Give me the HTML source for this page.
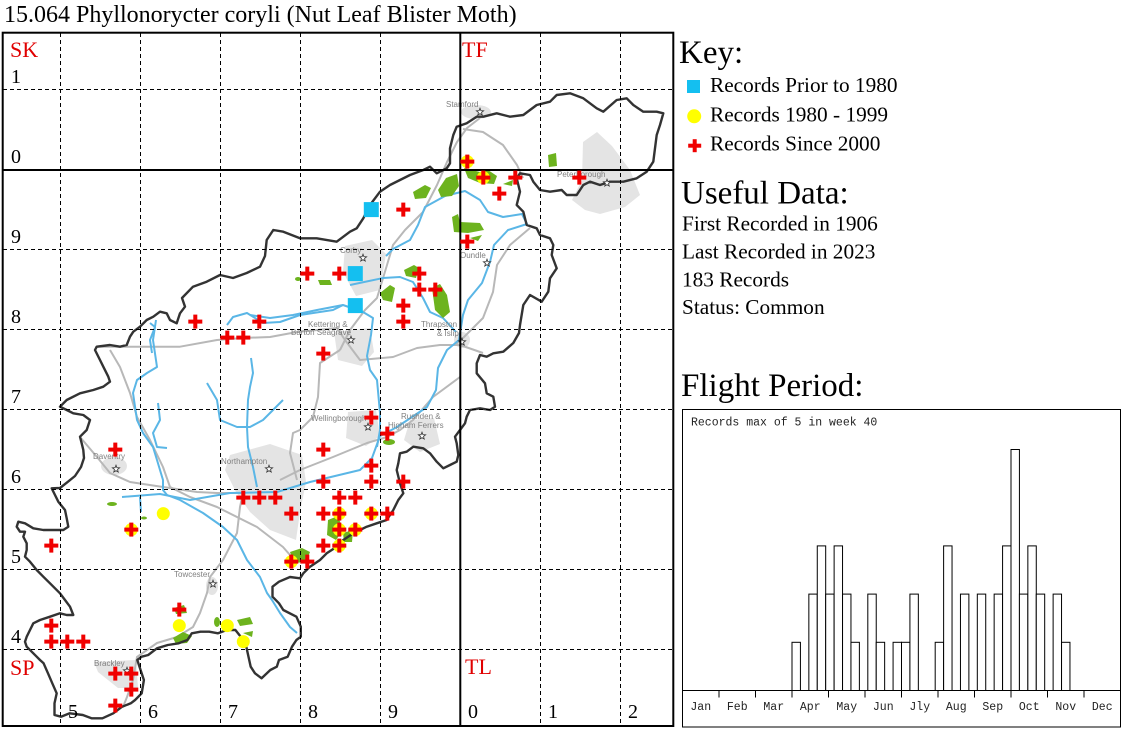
<!DOCTYPE html>
<html><head><meta charset="utf-8"><style>
html,body{margin:0;padding:0;background:#fff;}
svg{display:block;}
</style></head><body>
<svg width="1125" height="731" viewBox="0 0 1125 731" xmlns="http://www.w3.org/2000/svg">
<defs>
<g id="c" fill="#f00000"><rect x="-7" y="-2" width="14" height="4"/><rect x="-2" y="-7" width="4" height="14"/></g>
<circle id="y" r="6.5" fill="#ffff00"/>
<rect id="b" x="-7.5" y="-7.5" width="15" height="15" fill="#14bff0"/>
<path id="st" d="M0,-3.8 L0.94,-1.29 L3.61,-1.17 L1.52,0.49 L2.23,3.07 L0,1.6 L-2.23,3.07 L-1.52,0.49 L-3.61,-1.17 L-0.94,-1.29Z" fill="#fff" stroke="#333" stroke-width="0.8"/>
</defs>
<rect width="1125" height="731" fill="#fff"/>

<!-- Title -->
<text x="4" y="22" font-family="Liberation Serif, serif" font-size="24" fill="#000">15.064 Phyllonorycter coryli (Nut Leaf Blister Moth)</text>

<!-- ===== MAP ===== -->
<!-- towns -->
<g fill="#e4e4e4">
<ellipse cx="476" cy="112" rx="15" ry="7"/>
<path d="M583,142 L597,132 L612,146 L630,170 L640,195 L625,207 L600,214 L585,210 L572,200 L582,180 Z"/>
<path d="M345,246 L372,240 L386,254 L380,290 L356,296 L343,272 Z"/>
<path d="M334,332 L370,328 L374,352 L362,366 L338,360 Z"/>
<path d="M348,412 L376,410 L380,436 L366,446 L346,438 Z"/>
<path d="M410,420 L434,418 L440,444 L420,452 L404,440 Z"/>
<path d="M230,455 L270,444 L302,455 L306,482 L300,512 L296,540 L270,530 L250,512 L236,492 L225,470 Z"/>
<ellipse cx="114" cy="466" rx="13" ry="9"/>
<ellipse cx="212" cy="586" rx="6" ry="9"/>
<path d="M94,662 L136,660 L138,688 L118,688 L98,672 Z"/>
<ellipse cx="462" cy="340" rx="8" ry="8"/>
</g>
<!-- roads -->
<g fill="none" stroke="#b8b8b8" stroke-width="2" stroke-linejoin="round">
<polyline points="96.7,346.7 140,346.7 180,346.7 217,340 243,338 270,337 297,332 317,330 337,328 345,340 360,360 393,357 417,348 440,345 460,345 483,353"/>
<polyline points="340,350 350,330 365,310 377,298 387,265 393,245 405,230 423,212 437,185 447,162 457,142 467,128 480,118"/>
<polyline points="463,129 483,132 503,145 517,165 523,178"/>
<polyline points="530,228 510,245 497,265 493,292 483,318 463,338 455,345"/>
<polyline points="460,377 433,397 413,420 400,430 387,437 367,443 333,457 300,470 280,480"/>
<polyline points="340,350 320,363 318,397 313,417 300,430 293,433 290,453 297,480"/>
<polyline points="80,437 97,457 110,473 130,482 163,487 197,492 217,493 243,493"/>
<polyline points="243,493 240,507 237,533 223,560 210,577 207,593 200,613 193,627 177,637 157,643 137,657 133,680 127,697 123,707"/>
<polyline points="110,350 120,367 130,393 137,417 150,440 163,467 170,487 190,497 217,507 257,527 283,547 297,563"/>
</g>
<!-- rivers -->
<g fill="none" stroke="#5ab6e6" stroke-width="2" stroke-linejoin="round">
<polyline points="122,497 160,494 190,500 230,493 277,492 310,482 360,470 372,458 380,436 397,427 427,407 436,390 438,368 447,350 459,340 463,315 468,300 482,283 490,262 494,245 508,230 527,224 522,214 503,217 488,212 480,200 465,191 445,196 425,207 418,225 410,240 393,249 386,256"/>
<polyline points="250,315 270,318 293,315 317,310 343,305 363,312 373,318 371,335 367,356 370,370 377,380 380,413 380,430 377,447"/>
<polyline points="350,285 383,278 400,277 413,282 423,298 430,312 443,318 456,332"/>
<polyline points="251,358 253,373 250,387 248,400 247,427 248,447 253,467 257,487"/>
<polyline points="207,383 217,400 220,420 237,427 250,427 263,420 283,400"/>
<polyline points="156,320 153,340 157,367 147,373 137,380 133,393 137,420 143,433 153,447 157,460 163,480 163,490 167,495"/>
<polyline points="158,403 160,420 153,433 157,447 167,448"/>
<polyline points="167,495 180,500 203,513 223,527 237,540 247,560 260,577 267,593 272,600 280,613 290,627 297,633"/>
<polyline points="227,325 233,317 247,313 263,323 280,322 300,315 333,310 343,305"/>
<polyline points="150,323 155,327 150,340 152,353"/>
<polyline points="140,497 141,512"/>
</g>
<!-- woodland -->
<g fill="#6db31e">
<path d="M413,192 L425,185 L431,188 L426,198 L415,199 Z"/>
<path d="M438,190 L446,178 L457,174 L459,186 L452,196 L441,197 Z"/>
<path d="M464,168 L480,172 L488,170 L497,176 L494,184 L480,183 L468,178 Z"/>
<path d="M503,184 L513,180 L512,186 Z"/>
<path d="M548,155 L556,153 L557,166 L549,167 Z"/>
<path d="M452,217 L458,214 L460,222 L480,223 L484,230 L468,233 L454,232 Z"/>
<path d="M470,238 L482,235 L478,241 Z"/>
<path d="M404,270 L414,265 L419,268 L416,278 L406,276 Z"/>
<path d="M380,293 L390,285 L395,288 L392,302 L383,300 Z"/>
<path d="M432,288 L440,284 L447,295 L450,312 L443,318 L435,310 Z"/>
<ellipse cx="298" cy="279" rx="3" ry="2"/>
<path d="M318,280 L330,280 L332,285 L320,285 Z"/>
<ellipse cx="389" cy="442" rx="6" ry="3"/>
<path d="M328,520 L338,516 L343,530 L336,540 L327,535 Z"/>
<path d="M343,533 L353,530 L352,542 L344,542 Z"/>
<path d="M290,552 L302,548 L310,552 L306,562 L294,563 Z"/>
<ellipse cx="112" cy="504" rx="5" ry="2"/>
<ellipse cx="144" cy="518" rx="3" ry="1.5"/>
<path d="M174,608 L184,605 L187,613 L176,614 Z"/>
<path d="M173,638 L183,632 L192,636 L187,643 L176,644 Z"/>
<ellipse cx="217" cy="622" rx="3" ry="5"/>
<path d="M237,620 L250,617 L253,624 L240,626 Z"/>
<path d="M243,633 L253,631 L252,637 Z"/>
</g>
<!-- county outline -->
<path fill="none" stroke="#333" stroke-width="2.4" stroke-linejoin="round" d="M95,350 L96.7,346.7 L110,345 L120,346.7 L126.7,345 L130,336.7 L133.3,331.7 L140,326.7 L146.7,320 L153.3,316.7 L160,311.7 L166.7,313.3 L170,320 L176.7,323.3 L180,313.3 L185,306.7 L182,298 L193,286.7 L206.7,281.7 L220,275 L233,278 L246.7,273 L260,266.7 L265,256 L266.7,240 L273.3,230 L283.3,231.7 L300,238.3 L316.7,238.3 L336.7,241.7 L350,231.7 L356.7,228.3 L363.3,218.3 L370,205 L380,191.7 L390,185 L400,180 L410,175 L423.3,170 L430,166.7 L436.7,173.3 L446.7,168.3 L450,163.3 L450,148.3 L453.3,135 L456.7,126.7 L466.7,123.3 L476.7,116.7 L483.3,116.7 L496.7,113.3 L510,116.7 L523.3,115 L536.7,105 L550,101.7 L556.7,95 L570,93.3 L583.3,98.3 L596.7,108.3 L603.3,111.7 L616.7,100 L626.7,98.3 L633.3,105 L643.3,111.7 L656.7,111.7 L663.3,113.3 L660,125 L656.7,135 L655,148.3 L653.3,161.7 L646.7,171.7 L636.7,178.3 L623.3,181.7 L610,181.7 L600,185 L590,181.7 L583.3,185 L576.7,195 L566.7,195 L561.7,190 L550,191.7 L540,190 L533.3,181.7 L530,175 L520,173.3 L516.7,178.3 L520,191.7 L516.7,205 L523.3,211.7 L526.7,225 L536.7,228.3 L540,235 L550,238.3 L553.3,245 L551.7,255 L556.7,268.3 L550,278.3 L548.3,291.7 L541.7,301.7 L530,295 L523.3,305 L520,325 L519,333 L513.3,343 L503.3,351.7 L493.3,353.3 L486.7,356.7 L480,355 L476.7,363.3 L476.7,373.3 L485,383.3 L486.7,393.3 L493.3,396.7 L495,406.7 L490,410 L480,408.3 L470,410 L466.7,416.7 L465,423.3 L460,430 L455,436.7 L456.7,443.3 L458.3,455 L456.7,461.7 L450,465 L443.3,468.3 L436.7,461.7 L430,453.3 L423.3,448.3 L413.3,446.7 L406.7,451.7 L400,453.3 L398.3,463.3 L396.7,470 L400,483.3 L403.3,493.3 L398.3,500 L393.3,510 L386.7,520 L376.7,523.3 L366.7,526.7 L360,530 L353.3,533.3 L343.3,540 L336.7,546.7 L326.7,553.3 L320,560 L310,566.7 L303.3,573.3 L300,578.3 L290,577 L279,581.7 L272.5,586.7 L272.5,596.7 L279,603.3 L283.3,610 L296.4,616.7 L300.8,626.7 L300.8,636.7 L296.4,640 L292,646.7 L287.7,656.7 L279,660 L276.8,666.7 L270.3,670 L261.6,678.3 L255,673.3 L250.7,666.7 L248.5,656.7 L246.3,646.7 L242,638.3 L235.4,630 L226.7,630 L218,633.3 L209.2,631.7 L200.5,631.7 L191.8,633.3 L187.4,640 L178.7,643.3 L167.8,645 L157,648.3 L148.2,655 L141.7,656.7 L137.3,660 L139.5,666.7 L143.9,680 L141.7,693.3 L135.1,700 L130.8,703.3 L122.1,706.7 L113.3,713.3 L102.4,718.3 L91.5,718.3 L82.8,715 L69.7,713.3 L61,716.7 L54.5,715 L54.5,703.3 L56.7,693.3 L52.3,683.3 L48,673.3 L43.6,663.3 L40,660 L36.7,656.7 L31.7,651.7 L26.7,646.7 L25,641.7 L26.7,636.7 L30,630 L33.3,623.3 L40,620 L50,616.7 L60,613.3 L66.7,615 L73.3,615 L70,606.7 L65,600 L60,593.3 L50,583.3 L43.3,576.7 L36.7,570 L30,561.7 L25,556.7 L26.7,550 L26.7,543.3 L23.3,536.7 L25,531.7 L20,531.7 L16.7,526.7 L18.3,521.7 L25,523.3 L33.3,528.3 L43.3,530 L63.3,530 L68.3,526.7 L66.7,518.3 L65,510 L58.3,501.7 L55,495 L51.7,488.3 L60,488 L68,481.7 L75,476 L81,467 L84,458 L83.3,450 L81.7,443.3 L80,436.7 L86.7,430 L90,420 L83.3,415 L73.3,413.3 L66.7,410 L60,406.7 L66.7,400 L80,393.3 L93.3,390 L103.3,386.7 L110,381.7 L108.3,376.7 L103.3,366.7 L100,360 Z"/>

<!-- town labels -->
<g font-family="Liberation Sans, sans-serif" font-size="8" fill="#808080">
<text x="446" y="107">Stamford</text>
<text x="557" y="177">Peterborough</text>
<text x="340" y="253">Corby</text>
<text x="460" y="258">Oundle</text>
<text x="308" y="327">Kettering &amp;</text>
<text x="291" y="335">Barton Seagrave</text>
<text x="421" y="327">Thrapston</text>
<text x="437" y="336">&amp; Islip</text>
<text x="311" y="421">Wellingborough</text>
<text x="401" y="419">Rushden &amp;</text>
<text x="388" y="428">Higham Ferrers</text>
<text x="221" y="464">Northampton</text>
<text x="93" y="459">Daventry</text>
<text x="174" y="577">Towcester</text>
<text x="94" y="666">Brackley</text>
</g>
<g>
<use href="#st" x="480" y="112"/><use href="#st" x="607" y="183"/><use href="#st" x="363" y="258"/>
<use href="#st" x="487" y="263"/><use href="#st" x="351" y="340"/><use href="#st" x="462" y="342"/>
<use href="#st" x="368" y="427"/><use href="#st" x="422" y="436"/><use href="#st" x="269" y="469"/>
<use href="#st" x="116" y="469"/><use href="#st" x="213" y="584"/><use href="#st" x="127" y="671"/>
</g>

<!-- grid -->
<g stroke="#000" stroke-width="1" stroke-dasharray="4 3" fill="none">
<line x1="60.5" y1="33" x2="60.5" y2="726"/>
<line x1="140.5" y1="33" x2="140.5" y2="726"/>
<line x1="220.5" y1="33" x2="220.5" y2="726"/>
<line x1="300.5" y1="33" x2="300.5" y2="726"/>
<line x1="380.5" y1="33" x2="380.5" y2="726"/>
<line x1="540.5" y1="33" x2="540.5" y2="726"/>
<line x1="620.5" y1="33" x2="620.5" y2="726"/>
<line x1="3" y1="89.5" x2="673" y2="89.5"/>
<line x1="3" y1="249.5" x2="673" y2="249.5"/>
<line x1="3" y1="329.5" x2="673" y2="329.5"/>
<line x1="3" y1="409.5" x2="673" y2="409.5"/>
<line x1="3" y1="489.5" x2="673" y2="489.5"/>
<line x1="3" y1="569.5" x2="673" y2="569.5"/>
<line x1="3" y1="649.5" x2="673" y2="649.5"/>
</g>
<g stroke="#000" stroke-width="2" fill="none">
<line x1="460.3" y1="33" x2="460.3" y2="726"/>
<line x1="3" y1="170" x2="673" y2="170"/>
<rect x="2.7" y="32.7" width="670.6" height="693.3"/>
</g>
<!-- grid labels -->
<g font-family="Liberation Serif, serif" font-size="22" fill="#e00000">
<text x="10" y="57">SK</text>
<text x="462" y="57">TF</text>
<text x="10" y="675">SP</text>
<text x="465" y="674">TL</text>
</g>
<g font-family="Liberation Serif, serif" font-size="20" fill="#000">
<text x="11" y="83">1</text>
<text x="11" y="163">0</text>
<text x="11" y="243">9</text>
<text x="11" y="323">8</text>
<text x="11" y="403">7</text>
<text x="11" y="483">6</text>
<text x="11" y="563">5</text>
<text x="11" y="643">4</text>
<text x="68" y="718">5</text>
<text x="148" y="718">6</text>
<text x="228" y="718">7</text>
<text x="308" y="718">8</text>
<text x="388" y="718">9</text>
<text x="468" y="718">0</text>
<text x="548" y="718">1</text>
<text x="628" y="718">2</text>
</g>

<!-- markers: yellow -->
<g>
<use href="#y" x="467.3" y="161.6"/><use href="#y" x="483.3" y="177.6"/>
<use href="#y" x="339.3" y="513.6"/><use href="#y" x="371.3" y="513.6"/>
<use href="#y" x="339.3" y="529.6"/><use href="#y" x="355.3" y="529.6"/>
<use href="#y" x="339.3" y="545.6"/><use href="#y" x="291.3" y="561.6"/>
<use href="#y" x="131.3" y="529.6"/><use href="#y" x="163.3" y="513.6"/>
<use href="#y" x="179.3" y="625.6"/><use href="#y" x="227.3" y="625.6"/>
<use href="#y" x="243.3" y="641.6"/>
</g>
<!-- blue squares -->
<g>
<use href="#b" x="371.3" y="209.6"/><use href="#b" x="355.3" y="273.6"/><use href="#b" x="355.3" y="305.6"/>
</g>
<!-- crosses -->
<g>
<use href="#c" x="467.3" y="161.6"/><use href="#c" x="483.3" y="177.6"/><use href="#c" x="515.3" y="177.6"/>
<use href="#c" x="579.3" y="177.6"/><use href="#c" x="499.3" y="193.6"/><use href="#c" x="403.3" y="209.6"/>
<use href="#c" x="467.3" y="241.6"/><use href="#c" x="307.3" y="273.6"/><use href="#c" x="339.3" y="273.6"/>
<use href="#c" x="419.3" y="273.6"/><use href="#c" x="419.3" y="289.6"/><use href="#c" x="435.3" y="289.6"/>
<use href="#c" x="403.3" y="305.6"/><use href="#c" x="403.3" y="321.6"/><use href="#c" x="259.3" y="321.6"/>
<use href="#c" x="195.3" y="321.6"/><use href="#c" x="227.3" y="337.6"/><use href="#c" x="243.3" y="337.6"/>
<use href="#c" x="323.3" y="353.6"/><use href="#c" x="371.3" y="417.6"/><use href="#c" x="387.3" y="433.6"/>
<use href="#c" x="323.3" y="449.6"/><use href="#c" x="371.3" y="465.6"/><use href="#c" x="323.3" y="481.6"/>
<use href="#c" x="371.3" y="481.6"/><use href="#c" x="403.3" y="481.6"/><use href="#c" x="339.3" y="497.6"/>
<use href="#c" x="355.3" y="497.6"/><use href="#c" x="323.3" y="513.6"/><use href="#c" x="339.3" y="513.6"/>
<use href="#c" x="371.3" y="513.6"/><use href="#c" x="387.3" y="513.6"/><use href="#c" x="339.3" y="529.6"/>
<use href="#c" x="355.3" y="529.6"/><use href="#c" x="323.3" y="545.6"/><use href="#c" x="339.3" y="545.6"/>
<use href="#c" x="291.3" y="561.6"/><use href="#c" x="307.3" y="561.6"/><use href="#c" x="115.3" y="449.6"/>
<use href="#c" x="243.3" y="497.6"/><use href="#c" x="259.3" y="497.6"/><use href="#c" x="275.3" y="497.6"/>
<use href="#c" x="291.3" y="513.6"/><use href="#c" x="131.3" y="529.6"/><use href="#c" x="51.3" y="545.6"/>
<use href="#c" x="51.3" y="625.6"/><use href="#c" x="51.3" y="641.6"/><use href="#c" x="67.3" y="641.6"/>
<use href="#c" x="83.3" y="641.6"/><use href="#c" x="179.3" y="609.6"/><use href="#c" x="115.3" y="673.6"/>
<use href="#c" x="131.3" y="673.6"/><use href="#c" x="131.3" y="689.6"/><use href="#c" x="115.3" y="705.6"/>
</g>

<!-- ===== RIGHT PANEL ===== -->
<g font-family="Liberation Serif, serif" fill="#000">
<text x="679" y="63" font-size="33">Key:</text>
<rect x="687" y="80" width="13" height="13" fill="#14bff0"/>
<text x="710" y="92" font-size="21.3">Records Prior to 1980</text>
<circle cx="694.2" cy="116.3" r="7" fill="#ffff00"/>
<text x="710" y="121.5" font-size="21.3">Records 1980 - 1999</text>
<g fill="#f00000"><rect x="688.2" y="143.7" width="13" height="4"/><rect x="692.7" y="139.2" width="4" height="13"/></g>
<text x="710" y="150.7" font-size="21.3">Records Since 2000</text>
<text x="681" y="203.5" font-size="33">Useful Data:</text>
<text x="682" y="230.7" font-size="21.3">First Recorded in 1906</text>
<text x="682" y="258.5" font-size="21.3">Last Recorded in 2023</text>
<text x="682" y="286.3" font-size="21.3">183 Records</text>
<text x="682" y="314" font-size="21.3">Status: Common</text>
<text x="681" y="396" font-size="33">Flight Period:</text>
</g>

<!-- flight chart -->
<g stroke="#000" stroke-width="1" fill="#fff">
<rect x="682.5" y="409.5" width="438" height="317.5" fill="none"/>
<rect x="792.0" y="642.3" width="8.42" height="48.2"/>
<rect x="808.85" y="594.1" width="8.42" height="96.4"/>
<rect x="817.27" y="545.9" width="8.42" height="144.6"/>
<rect x="825.69" y="594.1" width="8.42" height="96.4"/>
<rect x="834.12" y="545.9" width="8.42" height="144.6"/>
<rect x="842.54" y="594.1" width="8.42" height="96.4"/>
<rect x="850.96" y="642.3" width="8.42" height="48.2"/>
<rect x="867.81" y="594.1" width="8.42" height="96.4"/>
<rect x="876.23" y="642.3" width="8.42" height="48.2"/>
<rect x="893.08" y="642.3" width="8.42" height="48.2"/>
<rect x="901.50" y="642.3" width="8.42" height="48.2"/>
<rect x="909.92" y="594.1" width="8.42" height="96.4"/>
<rect x="935.19" y="642.3" width="8.42" height="48.2"/>
<rect x="943.62" y="545.9" width="8.42" height="144.6"/>
<rect x="960.46" y="594.1" width="8.42" height="96.4"/>
<rect x="977.31" y="594.1" width="8.42" height="96.4"/>
<rect x="994.15" y="594.1" width="8.42" height="96.4"/>
<rect x="1002.58" y="545.9" width="8.42" height="144.6"/>
<rect x="1011.00" y="449.5" width="8.42" height="241"/>
<rect x="1019.42" y="594.1" width="8.42" height="96.4"/>
<rect x="1027.85" y="545.9" width="8.42" height="144.6"/>
<rect x="1036.27" y="594.1" width="8.42" height="96.4"/>
<rect x="1053.12" y="594.1" width="8.42" height="96.4"/>
<rect x="1061.54" y="642.3" width="8.42" height="48.2"/>
<line x1="682.5" y1="690.5" x2="1120.5" y2="690.5"/>
<line x1="719" y1="690.5" x2="719" y2="697.5"/>
<line x1="755.5" y1="690.5" x2="755.5" y2="697.5"/>
<line x1="792" y1="690.5" x2="792" y2="697.5"/>
<line x1="828.5" y1="690.5" x2="828.5" y2="697.5"/>
<line x1="865" y1="690.5" x2="865" y2="697.5"/>
<line x1="901.5" y1="690.5" x2="901.5" y2="697.5"/>
<line x1="938" y1="690.5" x2="938" y2="697.5"/>
<line x1="974.5" y1="690.5" x2="974.5" y2="697.5"/>
<line x1="1011" y1="690.5" x2="1011" y2="697.5"/>
<line x1="1047.5" y1="690.5" x2="1047.5" y2="697.5"/>
<line x1="1084" y1="690.5" x2="1084" y2="697.5"/>
</g>
<g font-family="Liberation Mono, monospace" font-size="11.5" fill="#222">
<text x="691" y="425.5">Records max of 5 in week 40</text>
<g text-anchor="middle">
<text x="700.75" y="710">Jan</text>
<text x="737.25" y="710">Feb</text>
<text x="773.75" y="710">Mar</text>
<text x="810.25" y="710">Apr</text>
<text x="846.75" y="710">May</text>
<text x="883.25" y="710">Jun</text>
<text x="919.75" y="710">Jly</text>
<text x="956.25" y="710">Aug</text>
<text x="992.75" y="710">Sep</text>
<text x="1029.25" y="710">Oct</text>
<text x="1065.75" y="710">Nov</text>
<text x="1102.25" y="710">Dec</text>
</g>
</g>
</svg>
</body></html>
